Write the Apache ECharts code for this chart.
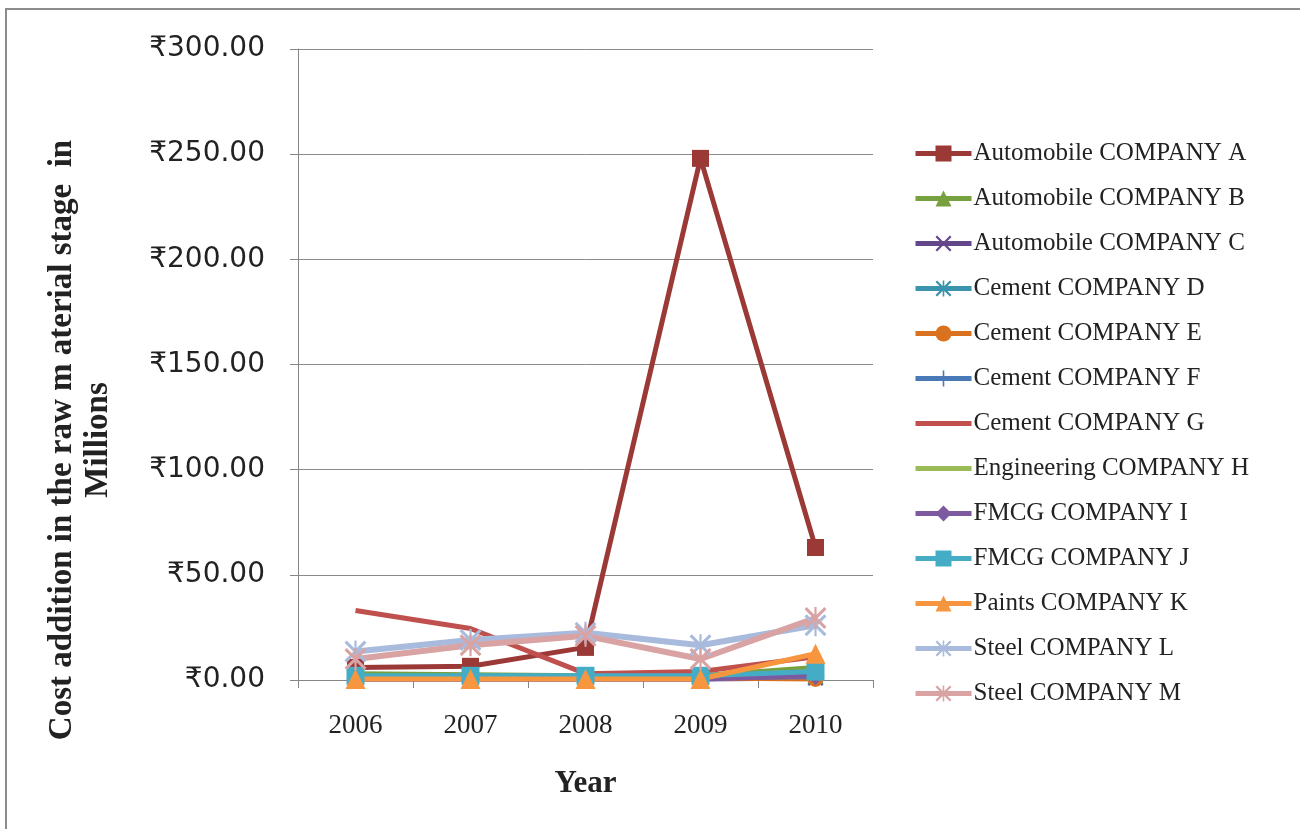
<!DOCTYPE html>
<html>
<head>
<meta charset="utf-8">
<script src="https://cdn.jsdelivr.net/npm/echarts@6/dist/echarts.min.js"></script>
<style>
  html, body { margin: 0; padding: 0; background: #fff; }
  #chart { width: 1300px; height: 829px; }
</style>
</head>
<body>
<div id="chart"></div>
<script>
const years = ["2006", "2007", "2008", "2009", "2010"];

const autoA = [6, 6.5, 15.5, 248, 63];
const autoB = [3, 2.5, 2, 2, 6];
const autoC = [0.5, 0.5, 0.5, 0.5, 1];
const cementD = [1, 1, 1, 1, 1.5];
const cementE = [1, 1, 1, 1, 0.5];
const cementF = [1.2, 1.2, 1.2, 1.2, 1.5];
const cementG = [33, 24.5, 3, 4, 11];
const engH = [1.5, 1.5, 1.5, 1.5, 4];
const fmcgI = [0.5, 0.5, 0.5, 0.5, 2];
const fmcgJ = [2, 2, 2, 2, 4];
const paintsK = [0.5, 0.5, 0.5, 0.5, 12.5];
const steelL = [13.5, 19, 22.5, 16.5, 26];
const steelM = [10, 16.5, 21, 10, 29.5];

const xPath = "path://M2,0L10,8L18,0L20,2L12,10L20,18L18,20L10,12L2,20L0,18L8,10L0,2Z";
const plusPath = "path://M9,0H11V9H20V11H11V20H9V11H0V9H9Z";
const starPath = "path://M2,0L9,7V0H11V7L18,0L20,2L12,10L20,18L18,20L11,13V20H9V13L2,20L0,18L8,10L0,2Z";
const barPath = "path://M0,0H56V5H0Z";

function line(name, data, color, symbol, size, width) {
  return {
    name: name,
    type: "line",
    data: data,
    symbol: symbol || "none",
    symbolSize: size || 0,
    showSymbol: !!symbol,
    color: color,
    lineStyle: { width: width || 5, color: color },
    itemStyle: { color: color },
    emphasis: { disabled: true }
  };
}

const series = [
  line("Automobile COMPANY A", autoA, "#9B3937", "rect", 17),
  line("Automobile COMPANY B", autoB, "#77A03F", "triangle", 16),
  line("Automobile COMPANY C", autoC, "#63478A", xPath, 16),
  line("Cement COMPANY D", cementD, "#3A93AF", starPath, 16),
  line("Cement COMPANY E", cementE, "#D9711F", "circle", 16),
  line("Cement COMPANY F", cementF, "#4A79B8", plusPath, 16),
  line("Cement COMPANY G", cementG, "#C0504D"),
  line("Engineering COMPANY H", engH, "#9BBB59"),
  line("FMCG COMPANY I", fmcgI, "#7D5AA0", "diamond", 18),
  line("FMCG COMPANY J", fmcgJ, "#45ACC6", "rect", 18),
  line("Paints COMPANY K", paintsK, "#F7963F", "triangle", 20),
  line("Steel COMPANY L", steelL, "#A9BBDD", starPath, 22, 6),
  line("Steel COMPANY M", steelM, "#D9A3A3", starPath, 22, 6)
];

const chart = echarts.init(document.getElementById("chart"));
chart.setOption({
  animation: false,
  backgroundColor: "#fff",
  grid: { left: 298, top: 49, right: 427, bottom: 149 },
  legend: {
    orient: "vertical",
    left: 913,
    top: 141,
    padding: 0,
    itemWidth: 56,
    itemHeight: 20,
    itemGap: 20,
    lineStyle: { width: 5 },
    textStyle: { fontFamily: "Liberation Serif", fontSize: 25, color: "#222", lineHeight: 25, padding: [0, 0, 0, -3] },
    data: series.map(s => s.symbol === "none" ? { name: s.name, icon: barPath } : s.name)
  },
  xAxis: {
    type: "category",
    data: years,
    boundaryGap: true,
    name: "Year",
    nameLocation: "middle",
    nameGap: 88,
    nameTextStyle: { fontFamily: "Liberation Serif", fontSize: 31, fontWeight: "bold", color: "#222" },
    axisLine: { lineStyle: { color: "#868686", width: 1 } },
    axisTick: { show: true, length: 8, alignWithLabel: false, lineStyle: { color: "#868686" } },
    axisLabel: { fontFamily: "Liberation Serif", fontSize: 27, color: "#222", margin: 32 }
  },
  yAxis: {
    type: "value",
    min: 0,
    max: 300,
    interval: 50,
    axisLine: { show: true, lineStyle: { color: "#868686", width: 1 } },
    axisTick: { show: true, length: 8, lineStyle: { color: "#868686" } },
    splitLine: { lineStyle: { color: "#8a8a8a", width: 1 } },
    axisLabel: {
      fontFamily: "DejaVu Sans",
      fontSize: 28,
      color: "#222",
      margin: 33,
      padding: [4, 0, 0, 0],
      formatter: v => "₹" + v.toFixed(2)
    }
  },
  graphic: [
    {
      type: "rect",
      shape: { x: 6, y: 9, width: 1310, height: 840 },
      style: { fill: "none", stroke: "#8c8c8c", lineWidth: 2 },
      silent: true
    },
    {
      type: "text",
      x: 80,
      y: 440,
      rotation: Math.PI / 2,
      style: {
        text: "Cost addition in the raw m aterial stage  in\nMillions",
        fontFamily: "Liberation Serif",
        fontSize: 33,
        fontWeight: "bold",
        fill: "#222",
        align: "center",
        verticalAlign: "middle",
        lineHeight: 36
      }
    }
  ],
  series: series
});
</script>
</body>
</html>
